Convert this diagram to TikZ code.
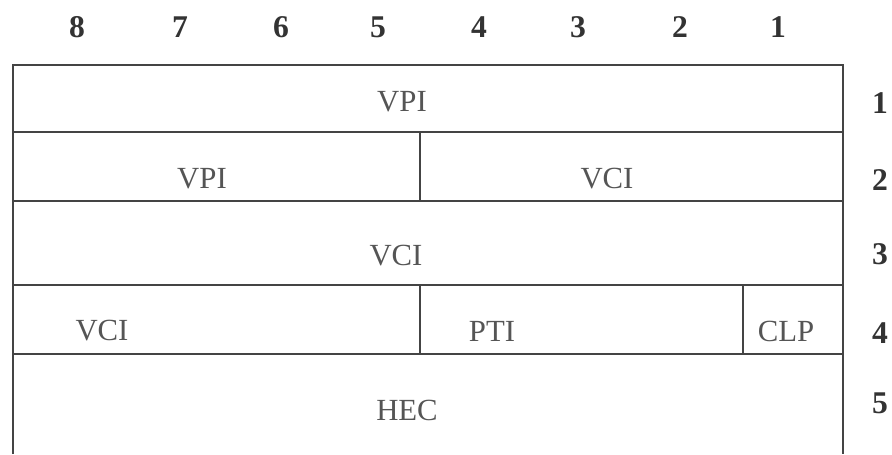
\documentclass[tikz,border=0pt]{standalone}
\usepackage{fontspec}
\setmainfont{Liberation Serif}
\usetikzlibrary{positioning}
\definecolor{inkgray}{HTML}{555555}
\definecolor{linegray}{HTML}{444444}

\begin{document}
\begin{tikzpicture}[
    x=0.02cm, y=-0.02cm,
    field/.style={inner sep=0pt, text=inkgray, font=\fontsize{17.5}{19}\selectfont},
    bitnum/.style={inner sep=0pt, text=black!80, font=\fontsize{18}{20}\selectfont\bfseries},
    rownum/.style={inner sep=0pt, text=black!80, font=\fontsize{18}{20}\selectfont\bfseries},
    gridline/.style={draw=linegray, line width=1.1pt}
]
  \useasboundingbox (0,0) rectangle (892,454);

  % Bit numbers
  \node (b8) [bitnum] at (77,27) {8};
  \node (b7) [bitnum] at (180,27) {7};
  \node (b6) [bitnum] at (281,27) {6};
  \node (b5) [bitnum] at (378,27) {5};
  \node (b4) [bitnum] at (479,27) {4};
  \node (b3) [bitnum] at (578,27) {3};
  \node (b2) [bitnum] at (680,27) {2};
  \node (b1) [bitnum] at (778,27) {1};

  % Grid
  \draw [gridline] (13,454) -- (13,65) -- (843,65) -- (843,454);
  \draw [gridline] (13,132) -- (843,132);
  \draw [gridline] (13,201) -- (843,201);
  \draw [gridline] (13,285) -- (843,285);
  \draw [gridline] (13,354) -- (843,354);
  \draw [gridline] (420,132) -- (420,201);
  \draw [gridline] (420,285) -- (420,354);
  \draw [gridline] (743,285) -- (743,354);

  % Fields
  \node (vpia) [field] at (402,102) {VPI};
  \node (vpib) [field] at (202,179) {VPI};
  \node (vcia) [field] at (607,179) {VCI};
  \node (vcib) [field] at (396,256) {VCI};
  \node (vcic) [field] at (102,331) {VCI};
  \node (pti)  [field] at (492,331) {PTI};
  \node (clp)  [field] at (786,331) {CLP};
  \node (hec)  [field] at (407,410) {HEC};

  % Octet numbers
  \node (o1) [rownum] at (880,103) {1};
  \node (o2) [rownum] at (880,180) {2};
  \node (o3) [rownum] at (880,254) {3};
  \node (o4) [rownum] at (880,333) {4};
  \node (o5) [rownum] at (880,403) {5};
\end{tikzpicture}
\end{document}
